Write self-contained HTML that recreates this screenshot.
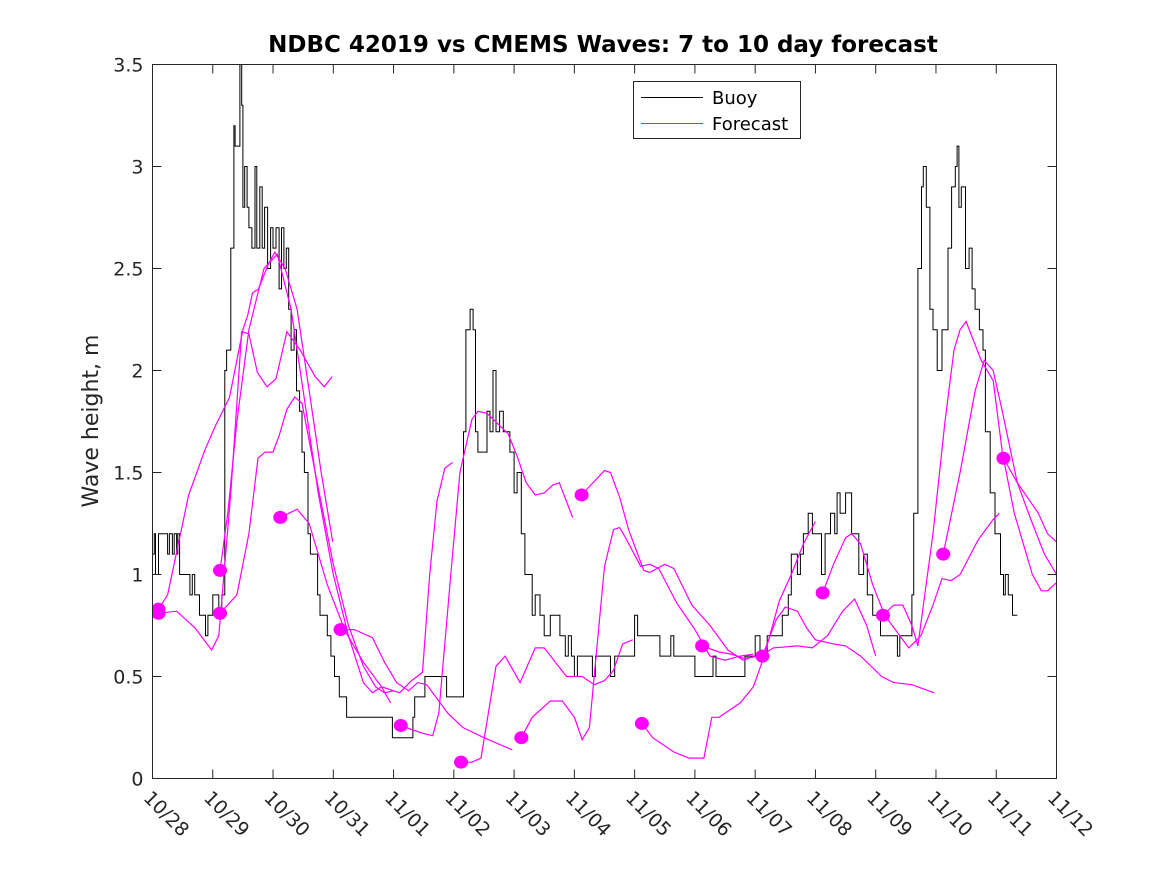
<!DOCTYPE html>
<html><head><meta charset="utf-8"><style>
html,body{margin:0;padding:0;background:#fff;}
svg{display:block;font-family:"DejaVu Sans","Liberation Sans",sans-serif;}
</style></head><body>
<svg id="chart" width="1167" height="875" viewBox="0 0 1167 875" xmlns="http://www.w3.org/2000/svg">
<rect x="0" y="0" width="1167" height="875" fill="#fff"/>
<text x="603" y="52" text-anchor="middle" font-size="23" font-weight="bold" fill="#000">NDBC 42019 vs CMEMS Waves: 7 to 10 day forecast</text>
<text transform="translate(98,421) rotate(-90)" text-anchor="middle" font-size="22" fill="#262626">Wave height, m</text>
<g id="plot"></g>
<g id="axes"></g>
<g id="legend">
<rect x="633.5" y="81.5" width="167" height="57" fill="#fff" stroke="#262626" stroke-width="1"/>
<line x1="641" y1="97.5" x2="703" y2="97.5" stroke="#000" stroke-width="1"/>
<text x="712" y="104" font-size="18" fill="#000">Buoy</text>
<line x1="641" y1="123.5" x2="703" y2="123.5" stroke="#ff00ff" stroke-width="1"/>
<text x="712" y="130" font-size="18" fill="#000">Forecast</text>
</g>
</svg>
<script>
const xTickLabels = ["10/28","10/29","10/30","10/31","11/01","11/02","11/03","11/04","11/05","11/06","11/07","11/08","11/09","11/10","11/11","11/12"];
const yTickLabels = ["0","0.5","1","1.5","2","2.5","3","3.5"];
const yTicks = [0,0.5,1,1.5,2,2.5,3,3.5];
// buoy: days since 10/28 and wave heights
const buoyDays = [0,0.03,0.05,0.1,0.2,0.25,0.28,0.33,0.36,0.4,0.42,0.45,0.5,0.6,0.62,0.66,0.7,0.75,0.78,0.85,0.88,0.92,0.96,1.0,1.03,1.1,1.15,1.2,1.23,1.3,1.35,1.37,1.42,1.45,1.48,1.5,1.53,1.57,1.6,1.65,1.7,1.73,1.78,1.82,1.86,1.91,1.96,2.0,2.05,2.1,2.14,2.18,2.22,2.26,2.3,2.35,2.39,2.44,2.48,2.52,2.58,2.62,2.66,2.74,2.78,2.82,2.9,2.96,3.02,3.1,3.15,3.22,3.27,3.5,3.8,3.96,3.98,4.2,4.27,4.32,4.35,4.45,4.52,4.7,4.85,4.88,5.1,5.13,5.16,5.2,5.27,5.32,5.36,5.4,5.5,5.55,5.6,5.65,5.7,5.76,5.82,5.88,5.93,6.0,6.05,6.12,6.18,6.3,6.35,6.43,6.5,6.6,6.76,6.85,6.9,6.95,7.0,7.05,7.3,7.35,7.4,7.6,7.67,7.84,8.0,8.05,8.3,8.42,8.6,8.65,8.9,9.0,9.3,9.35,9.75,9.83,9.9,10.0,10.08,10.2,10.25,10.45,10.55,10.6,10.7,10.75,10.8,10.88,10.95,11.05,11.1,11.16,11.25,11.32,11.36,11.41,11.5,11.6,11.66,11.72,11.8,11.86,11.95,12.0,12.08,12.2,12.3,12.36,12.4,12.57,12.6,12.63,12.7,12.76,12.79,12.84,12.9,12.95,13.02,13.1,13.2,13.26,13.32,13.35,13.38,13.42,13.49,13.55,13.6,13.65,13.72,13.78,13.82,13.9,13.98,14.07,14.12,14.15,14.2,14.27,14.35];
const buoyValues = [1.1,1.2,1.0,1.2,1.2,1.1,1.2,1.1,1.2,1.1,1.2,1.0,1.0,1.0,0.9,1.0,0.9,0.9,0.8,0.8,0.7,0.8,0.8,0.9,0.9,0.8,0.9,2.0,2.1,2.6,3.2,3.1,3.1,3.5,3.3,2.8,3.0,2.8,2.7,2.6,3.0,2.6,2.9,2.6,2.8,2.5,2.7,2.6,2.7,2.4,2.7,2.5,2.6,2.3,2.1,2.2,1.9,1.8,1.6,1.5,1.2,1.1,1.1,0.9,0.8,0.8,0.7,0.6,0.5,0.4,0.4,0.3,0.3,0.3,0.3,0.3,0.2,0.2,0.2,0.3,0.4,0.4,0.5,0.5,0.5,0.4,0.4,0.4,1.7,2.2,2.3,2.2,1.7,1.6,1.6,1.8,1.7,2.0,1.7,1.8,1.7,1.7,1.6,1.4,1.5,1.2,1.0,0.8,0.9,0.8,0.7,0.8,0.7,0.6,0.7,0.6,0.5,0.6,0.5,0.6,0.6,0.5,0.6,0.6,0.8,0.7,0.7,0.6,0.7,0.6,0.6,0.5,0.6,0.5,0.5,0.6,0.6,0.7,0.6,0.7,0.7,0.8,0.9,1.1,1.0,1.1,1.2,1.3,1.2,1.2,1.0,1.2,1.3,1.2,1.4,1.3,1.4,1.2,1.2,1.0,1.1,0.9,0.8,0.8,0.7,0.7,0.7,0.6,0.7,0.7,0.9,1.3,2.5,2.9,3.0,2.8,2.3,2.2,2.0,2.2,2.6,2.9,3.0,3.1,2.8,2.9,2.5,2.6,2.4,2.3,2.2,2.1,1.7,1.4,1.2,1.0,0.9,1.0,0.9,0.8,0.8];
// forecast runs: each has days and values
const fcDays = [
 [0.1,0.4,0.7,0.98,1.1,1.3,1.48,1.6,1.74,1.9,2.05,2.23,2.45,2.7,2.85,2.98],
 [0.1,0.25,0.6,0.87,1.03,1.28,1.5,1.58,1.66,1.76,1.92,2.03,2.2,2.4,2.6,2.8,2.99],
 [1.12,1.25,1.4,1.6,1.85,2.07,2.3,2.5,2.75,3.0,3.25,3.5,3.65,3.8,3.95],
 [1.12,1.4,1.6,1.75,1.87,2.0,2.1,2.23,2.36,2.48,2.7,3.0,3.25,3.5,3.7,3.85,4.0],
 [2.12,2.4,2.6,2.9,3.2,3.5,3.8,4.1,4.3,4.48,4.6,4.72,4.85,4.98],
 [3.12,3.35,3.65,3.85,4.05,4.25,4.4,4.55,4.9,5.15,5.5,5.97],
 [4.12,4.3,4.5,4.65,4.75,4.95,5.1,5.3,5.4,5.55,5.9,6.05,6.2,6.35,6.5,6.65,6.75,6.97],
 [5.12,5.3,5.45,5.7,5.85,6.1,6.35,6.5,6.87,7.13,7.33,7.5,7.65,7.8,7.97],
 [6.12,6.3,6.6,6.8,7.0,7.13,7.25,7.5,7.65,7.75,7.85,8.1,8.25,8.4,8.7,9.0,9.25,9.5,9.75,9.97],
 [7.12,7.5,7.6,7.75,7.9,8.15,8.25,8.5,8.65,8.95,9.25,9.55,9.8,10.0],
 [8.12,8.3,8.65,8.9,9.15,9.28,9.4,9.75,9.97,10.15,10.4,10.6,10.8,11.0],
 [9.12,9.4,9.6,9.8,10.1,10.3,10.7,10.95,11.2,11.45,11.65,11.85,12.0],
 [10.12,10.35,10.5,10.7,10.85,11.0,11.3,11.5,11.75,12.1,12.3,12.6,12.97],
 [11.12,11.3,11.5,11.6,11.75,11.95,12.15,12.35,12.55,12.75,12.95,13.1,13.25,13.4,13.7,13.95,14.05],
 [12.12,12.3,12.45,12.6,12.7,12.95,13.15,13.3,13.4,13.5,13.75,13.95,14.1,14.3,14.6,14.75,14.85,15.0],
 [13.12,13.4,13.65,13.8,13.95,14.1,14.35,14.6,14.8,15.0],
 [14.12,14.35,14.7,14.85,15.0]
];
const fcValues = [
 [0.81,0.82,0.74,0.63,0.7,1.4,2.19,2.18,1.99,1.92,1.96,2.19,2.1,1.97,1.92,1.97],
 [0.83,0.9,1.39,1.61,1.72,1.87,2.2,2.27,2.38,2.4,2.52,2.58,2.5,2.3,1.9,1.5,1.16],
 [1.02,1.3,1.75,2.2,2.5,2.57,2.3,1.9,1.4,1.0,0.7,0.47,0.42,0.45,0.37],
 [0.81,0.9,1.2,1.57,1.6,1.6,1.68,1.81,1.87,1.84,1.5,1.05,0.75,0.55,0.45,0.42,0.43],
 [1.28,1.32,1.25,0.95,0.72,0.57,0.45,0.42,0.48,0.52,1.0,1.36,1.52,1.55],
 [0.73,0.73,0.69,0.57,0.47,0.43,0.47,0.46,0.32,0.25,0.2,0.14],
 [0.26,0.24,0.22,0.21,0.32,1.0,1.5,1.76,1.8,1.79,1.69,1.58,1.45,1.39,1.4,1.44,1.45,1.28],
 [0.08,0.08,0.1,0.55,0.6,0.47,0.64,0.64,0.5,0.5,0.46,0.48,0.53,0.66,0.68],
 [0.2,0.3,0.38,0.38,0.3,0.19,0.25,1.04,1.22,1.23,1.18,1.04,1.05,1.03,0.86,0.73,0.6,0.58,0.6,0.61],
 [1.39,1.51,1.5,1.38,1.22,1.02,1.01,1.05,1.03,0.85,0.75,0.63,0.58,0.6],
 [0.27,0.2,0.13,0.1,0.1,0.3,0.3,0.37,0.45,0.6,0.87,1.0,1.15,1.26],
 [0.65,0.62,0.61,0.59,0.6,0.64,0.65,0.64,0.7,0.82,0.88,0.75,0.6],
 [0.6,0.78,0.84,0.82,0.74,0.68,0.66,0.65,0.6,0.5,0.47,0.46,0.42],
 [0.91,1.05,1.18,1.2,1.15,0.95,0.8,0.72,0.64,0.7,0.85,0.98,0.97,1.0,1.17,1.27,1.3],
 [0.8,0.85,0.85,0.75,0.65,1.2,1.75,2.1,2.2,2.24,2.05,1.95,1.6,1.3,1.0,0.92,0.92,0.96],
 [1.1,1.5,1.9,2.05,2.0,1.8,1.45,1.25,1.1,1.0],
 [1.57,1.45,1.3,1.2,1.16]
];

const NS = "http://www.w3.org/2000/svg";
const X0 = 152.5, X1 = 1056.5, Y0 = 778.5, Y1 = 64.5;
const xMin = 0, xMax = 15, yMin = 0, yMax = 3.5;
function sx(d){ return X0 + (d - xMin) / (xMax - xMin) * (X1 - X0); }
function sy(v){ return Y0 - (v - yMin) / (yMax - yMin) * (Y0 - Y1); }
function mk(tag, attrs, parent){ const e = document.createElementNS(NS, tag); for (const k in attrs) e.setAttribute(k, attrs[k]); parent.appendChild(e); return e; }

const plot = document.getElementById('plot');
const axes = document.getElementById('axes');

const defs = mk('defs', {}, plot);
const cp = mk('clipPath', {id:'clip'}, defs);
mk('rect', {x:X0, y:Y1, width:X1-X0, height:Y0-Y1}, cp);
const g = mk('g', {'clip-path':'url(#clip)'}, plot);



let d = 'M' + sx(buoyDays[0]).toFixed(1) + ',' + sy(buoyValues[0]).toFixed(1);
for (let i = 1; i < buoyDays.length; i++) {
  d += ' H' + sx(buoyDays[i]).toFixed(1) + ' V' + sy(buoyValues[i]).toFixed(1);
}
const bl = mk('path', {d:d, fill:'none', stroke:'#000', 'stroke-width':1}, g);



fcDays.forEach((days, k)=>{
  const vals = fcValues[k];
  const p = days.map((dd,i)=> sx(dd).toFixed(1)+','+sy(vals[i]).toFixed(1)).join(' ');
  const l = mk('polyline', {points:p, fill:'none', stroke:'#ff00ff', 'stroke-width':1.2}, g);
  
  
  const c = mk('ellipse', {cx:sx(days[0]), cy:sy(vals[0]), rx:7, ry:6.5, fill:'#ff00ff'}, g);
  
  
});

const fr = mk('rect', {x:X0, y:Y1, width:X1-X0, height:Y0-Y1, fill:'none', stroke:'#262626', 'stroke-width':1}, axes);



xTickLabels.forEach((lab, i)=>{
  const x = sx(i);
  const t1 = mk('line', {x1:x, y1:Y0, x2:x, y2:Y0-9, stroke:'#262626'}, axes);
  
  
  const t2 = mk('line', {x1:x, y1:Y1, x2:x, y2:Y1+9, stroke:'#262626'}, axes);
  
  
  const tx = mk('text', {transform:'translate('+(x-10)+',799) rotate(45)', 'font-size':19, fill:'#262626'}, axes);
  tx.textContent = lab;
  
  
});

yTicks.forEach((v, i)=>{
  const y = sy(v);
  const t1 = mk('line', {x1:X0, y1:y, x2:X0+9, y2:y, stroke:'#262626'}, axes);
  
  
  const t2 = mk('line', {x1:X1, y1:y, x2:X1-9, y2:y, stroke:'#262626'}, axes);
  
  
  const tx = mk('text', {x:X0-9, y:y+7, 'text-anchor':'end', 'font-size':19, fill:'#262626'}, axes);
  tx.textContent = yTickLabels[i];
  
  
});
</script>
</body></html>
